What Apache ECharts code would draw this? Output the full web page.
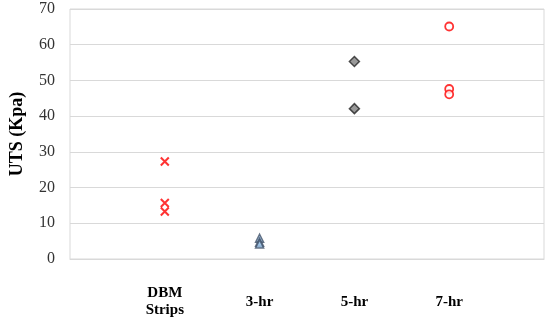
<!DOCTYPE html>
<html>
<head>
<meta charset="utf-8">
<script src="https://cdn.jsdelivr.net/npm/echarts@6/dist/echarts.min.js"></script>
<style>
  html, body { margin:0; padding:0; background:#fff; }
  #main { width:550px; height:319px; }
</style>
</head>
<body>
<div id="main"></div>
<script>
// categories: empty slots at both ends so the groups sit at 1..4
var categories = ['', 'DBM\nStrips', '3-hr', '5-hr', '7-hr', ''];
var yTicks = [0, 10, 20, 30, 40, 50, 60, 70];

var dbmValues = [27.3, 15.7, 13.3];
var hr3Values = [5.8, 4.7, 4.2];
var hr5Values = [55.3, 42.1];
var hr7Values = [65.1, 47.6, 46.1];

function pts(cat, vals) {
  return vals.map(function (v) { return [cat, v]; });
}

var myChart = echarts.init(document.getElementById('main'));
var serif = '"Liberation Serif", "Times New Roman", serif';

var option = {
  backgroundColor: '#fff',
  animation: false,
  grid: {
    left: 69, right: 6, top: 9, bottom: 58,
    show: true, borderColor: '#d9d9d9', borderWidth: 1
  },
  xAxis: {
    type: 'category',
    data: categories,
    boundaryGap: false,
    axisLine: { lineStyle: { color: '#d9d9d9' } },
    axisTick: { show: false },
    axisLabel: {
      interval: 0,
      margin: 43,
      verticalAlign: 'middle',
      fontFamily: serif,
      fontWeight: 'bold',
      fontSize: 15,
      lineHeight: 17,
      color: '#000'
    }
  },
  yAxis: {
    type: 'value',
    min: yTicks[0],
    max: yTicks[yTicks.length - 1],
    interval: 10,
    name: 'UTS (Kpa)',
    nameLocation: 'middle',
    nameGap: 44,
    nameTextStyle: { fontFamily: serif, fontWeight: 'bold', fontSize: 18, color: '#000' },
    axisLine: { show: false },
    axisTick: { show: false },
    splitLine: { lineStyle: { color: '#d9d9d9' } },
    axisLabel: { fontFamily: serif, fontSize: 16, color: '#333', margin: 15 }
  },
  series: [
    {
      type: 'scatter',
      data: pts('DBM\nStrips', dbmValues),
      symbol: 'path://M0,0L10,10M10,0L0,10',
      symbolSize: 8,
      itemStyle: { color: 'rgba(0,0,0,0)', borderColor: '#ff0000', borderWidth: 2 }
    },
    {
      type: 'scatter',
      data: pts('3-hr', hr3Values),
      symbol: 'triangle',
      symbolSize: 8,
      itemStyle: { color: '#9dc3e6', borderColor: '#44546a', borderWidth: 1.5 }
    },
    {
      type: 'scatter',
      data: pts('5-hr', hr5Values),
      symbol: 'diamond',
      symbolSize: 10,
      itemStyle: { color: '#7f7f7f', borderColor: '#262626', borderWidth: 1.5 }
    },
    {
      type: 'scatter',
      data: pts('7-hr', hr7Values),
      symbol: 'circle',
      symbolSize: 8,
      itemStyle: { color: '#fff', borderColor: '#ff0000', borderWidth: 1.8 }
    }
  ]
};

myChart.setOption(option);
</script>
</body>
</html>
